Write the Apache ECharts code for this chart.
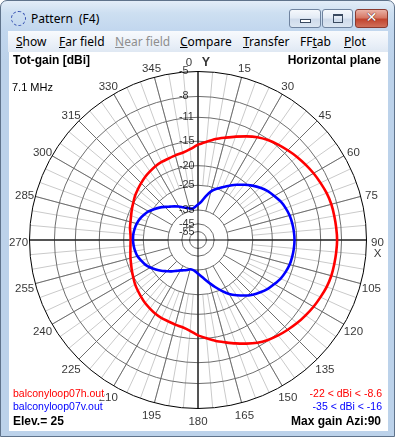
<!DOCTYPE html>
<html><head><meta charset="utf-8">
<script src="https://cdn.jsdelivr.net/npm/echarts@6.0.0/dist/echarts.min.js"></script>
<style>
html,body{margin:0;padding:0;width:395px;height:437px;overflow:hidden;background:#fff;}
#frame{position:absolute;left:0;top:0;width:395px;height:437px;box-sizing:border-box;border:1px solid #5f738b;border-radius:7px 7px 0 0;
  background:linear-gradient(to bottom,#e3edf8 0px,#cddff1 12px,#c2d7ee 29px,#bcd2ea 60px,#bcd2ea 100%);}
#title{position:absolute;top:9px;font:12px "Noto Sans","Open Sans",sans-serif;color:#000;white-space:pre;}
#menubar{position:absolute;left:7px;top:30px;width:380px;height:21px;background:linear-gradient(#f8fafd,#eaf0f8 60%,#dfe8f3);}
.mi{position:absolute;top:32px;font:12px "Noto Sans","Open Sans",sans-serif;color:#000;white-space:pre;}
.mi.dis{color:#8e8e8e;}
#client{position:absolute;left:8px;top:51px;width:379px;height:379px;background:#fff;}
.btn{position:absolute;top:8px;height:19px;box-sizing:border-box;border:1px solid #6f839f;border-radius:3px;
  background:linear-gradient(#f5f8fc,#e3ebf5 45%,#cfdbeb 55%,#dce6f2);}
#bclose{background:linear-gradient(#eab1a5,#d77966 45%,#c2452f 55%,#d0705b);border-color:#8a3a30;}
#icon{position:absolute;left:10px;top:10px;width:13px;height:13px;border:1px dashed #3550b0;border-radius:50%;}
#chart{position:absolute;left:0;top:0;width:395px;height:437px;}
</style></head>
<body>
<div id="frame">
  <div id="icon"></div>
  <div id="title" style="left:30px">Pattern</div>
  <div id="title2" style="position:absolute;left:78px;top:9px;font:12px 'Noto Sans','Open Sans',sans-serif;">(F4)</div>
  <div class="btn" style="left:288px;width:32px"><div style="position:absolute;left:10px;top:9px;width:9px;height:2px;border:1px solid #3a4a60;background:#fff"></div></div>
  <div class="btn" style="left:321px;width:31px"><div style="position:absolute;left:10px;top:4px;width:8px;height:6px;border:1px solid #3a4a60;border-top-width:2px;background:transparent"></div></div>
  <div class="btn" id="bclose" style="left:354px;width:33px"><div style="position:absolute;left:0;top:-1px;width:31px;text-align:center;font:bold 14px 'DejaVu Sans',sans-serif;color:#fff;text-shadow:0 0 1px #5a1d15,0 0 1px #5a1d15">✕</div></div>
  <div id="menubar"></div>
  <div class="mi" style="left:15px"><u>S</u>how</div>
  <div class="mi" style="left:58px"><u>F</u>ar field</div>
  <div class="mi dis" style="left:114px"><u>N</u>ear field</div>
  <div class="mi" style="left:179px"><u>C</u>ompare</div>
  <div class="mi" style="left:242px"><u>T</u>ransfer</div>
  <div class="mi" style="left:299px">FF<u>t</u>ab</div>
  <div class="mi" style="left:343px"><u>P</u>lot</div>
  <div id="client"></div>
</div>
<div id="chart"></div>
<script>
// ---------------- data ----------------
const azimuths = [0,5,10,15,20,25,30,35,40,45,50,55,60,65,70,75,80,85,
  90,95,100,105,110,115,120,125,130,135,140,145,150,155,160,165,170,175,
  180,185,190,195,200,205,210,215,220,225,230,235,240,245,250,255,260,265,
  270,275,280,285,290,295,300,305,310,315,320,325,330,335,340,345,350,355];
const redGain = [-15.6,-15.0,-14.3,-13.7,-13.0,-12.3,-11.6,-11.1,-10.7,-10.35,-10.0,-9.7,-9.4,-9.15,-8.9,-8.75,-8.7,-8.65,
  -8.6,-8.65,-8.7,-8.75,-8.9,-9.15,-9.4,-9.7,-10.0,-10.35,-10.7,-11.1,-11.6,-12.3,-13.0,-13.7,-14.3,-15.0,
  -15.6,-16.4,-16.9,-17.1,-17.3,-17.4,-17.6,-17.9,-18.2,-18.6,-19.0,-19.4,-19.9,-20.3,-20.7,-21.0,-21.3,-21.5,
  -21.6,-21.5,-21.2,-21.0,-20.7,-20.3,-19.9,-19.4,-19.0,-18.6,-18.2,-17.9,-17.6,-17.4,-17.3,-17.1,-16.9,-16.4];
const blueGain = [-32.2,-30.8,-28.5,-26.4,-25.1,-24.0,-22.8,-21.6,-20.5,-19.4,-18.4,-17.6,-17.0,-16.4,-16.0,-15.7,-15.55,-15.45,
  -15.4,-15.45,-15.55,-15.7,-16.0,-16.4,-17.0,-17.6,-18.4,-19.3,-20.4,-21.6,-22.9,-24.6,-26.5,-28.4,-30.2,-31.8,
  -33.1,-34.2,-34.8,-34.8,-34.0,-33.2,-32.4,-31.2,-29.8,-28.6,-27.2,-26.0,-24.9,-24.0,-23.4,-22.8,-22.5,-22.3,
  -22.2,-22.2,-22.35,-22.6,-23.0,-23.6,-24.3,-25.3,-26.4,-27.6,-28.8,-29.8,-30.8,-31.9,-32.8,-33.6,-34.0,-33.3];
const angleTicks = [0,15,30,45,60,75,90,105,120,135,150,165,180,195,210,225,240,255,270,285,300,315,330,345];
const angleTickLabels = ['0','15','30','45','60','75','90','105','120','135','150','165','180','195','210','225','240','255','270','285','300','315','330','345'];
const ringValues = [-5,-8,-11,-15,-20,-25,-35,-45,-55];
const ringTickLabels = ['-5','-8','-11','-15','-20','-25','-35','-45','-55'];

// ---------------- radial gain scale (log-like, as drawn) ----------------
const SCALE_DB = [-55,-45,-35,-25,-20,-15,-11,-8,-5];
const SCALE_FRAC = [0.050,0.096,0.178,0.325,0.441,0.586,0.728,0.852,1.0];
function gainToRadius(db){
  if (db >= -5) return Math.exp((db + 5) * 0.053);
  if (db <= -55) return 0.05 * Math.exp((db + 55) * 0.06);
  for (let i = 0; i < SCALE_DB.length - 1; i++) {
    if (db >= SCALE_DB[i] && db <= SCALE_DB[i+1]) {
      const t = (db - SCALE_DB[i]) / (SCALE_DB[i+1] - SCALE_DB[i]);
      return Math.exp(Math.log(SCALE_FRAC[i]) * (1 - t) + Math.log(SCALE_FRAC[i+1]) * t);
    }
  }
  return 0;
}

// font detection for narrow ring labels
function hasFont(name){
  const c = document.createElement('canvas').getContext('2d');
  c.font = '30px monospace'; const w0 = c.measureText('-1234567890abc').width;
  c.font = '30px "' + name + '", monospace'; const w1 = c.measureText('-1234567890abc').width;
  return Math.abs(w0 - w1) > 0.5;
}
const narrow = hasFont('Liberation Sans Narrow');
const ringFont = narrow ? {fontFamily:'"Liberation Sans Narrow"', fontSize:12} : {fontFamily:'"Liberation Sans", Arial', fontSize:10.8};

const CX = 198, CY = 240, R = 168.5;
const polar = [], angleAxis = [], radiusAxis = [];
function addPolar(r0, r1, axisOpt){
  const idx = polar.length;
  polar.push({center:[CX, CY], radius:[r0, r1]});
  angleAxis.push(Object.assign({
    polarIndex: idx, type:'value', min:0, max:360, startAngle:90, clockwise:true, interval:15,
    axisLine:{show:false}, axisTick:{show:false}, axisLabel:{show:false}, splitLine:{show:false}, silent:true
  }, axisOpt));
  radiusAxis.push({polarIndex: idx, type:'value', min:0, max:1, show:false});
  return idx;
}
const P_MAIN = addPolar(0, R, {axisLine:{show:true, lineStyle:{color:'#000', width:1}}, z:4});
addPolar(R * gainToRadius(-25), R, {interval:5, splitLine:{show:true, lineStyle:{color:'#cacaca', width:1}}, z:0});
addPolar(R * gainToRadius(-35), R, {interval:15, splitLine:{show:true, lineStyle:{color:'#6e6e6e', width:1}}, z:1});
ringValues.forEach(v => { if (v !== -5) addPolar(0, R * gainToRadius(v), {axisLine:{show:true, lineStyle:{color:'#6e6e6e', width:1}}, z:2}); });
addPolar(0, R, {interval:90, splitLine:{show:true, lineStyle:{color:'#000', width:1}}, z:3});

function toPolar(gains){
  const pts = gains.map((g, i) => [gainToRadius(g), azimuths[i]]);
  pts.push(pts[0]);
  return pts;
}

const angleLabelData = angleTicks.map((a, i) => {
  const rad = a * Math.PI / 180;
  const item = {value:[1, a], label:{offset:[11 * Math.sin(rad), -11 * Math.cos(rad) + 2.5], formatter: angleTickLabels[i]}};
  if (a === 0) item.label.formatter = '{n|' + angleTickLabels[i] + '}   {y|Y}';
  return item;
});
angleLabelData.push({value:[1, 90], label:{offset:[11, 14], formatter:'X'}});

const ringLabelData = ringValues.map((v, i) => ({value:[gainToRadius(v), 0], label:{formatter: ringTickLabels[i]}}));

const baseFont = '"Liberation Sans", Arial, sans-serif';
const chart = echarts.init(document.getElementById('chart'), null, {renderer:'canvas'});
chart.setOption({
  animation:false,
  polar, angleAxis, radiusAxis,
  series:[
    {type:'line', name:'balconyloop07h.out', coordinateSystem:'polar', polarIndex:P_MAIN, data:toPolar(redGain),
     symbol:'none', smooth:0.25, lineStyle:{color:'#ff0000', width:2.6}, z:10, silent:true, clip:false},
    {type:'line', name:'balconyloop07v.out', coordinateSystem:'polar', polarIndex:P_MAIN, data:toPolar(blueGain),
     symbol:'none', smooth:0.25, lineStyle:{color:'#0000ff', width:2.6}, z:11, silent:true, clip:false},
    {type:'scatter', coordinateSystem:'polar', polarIndex:P_MAIN, symbolSize:1, itemStyle:{color:'rgba(0,0,0,0)'},
     clip:false, silent:true, z:12, data:angleLabelData,
     label:{show:true, position:'inside', align:'center', verticalAlign:'middle', color:'#000', fontSize:11.5, fontFamily:baseFont,
       rich:{n:{fontSize:11.5, fontFamily:baseFont, color:'#000'}, y:{fontSize:12.5, fontWeight:'bold', fontFamily:baseFont, color:'#000'}}}},
    {type:'scatter', coordinateSystem:'polar', polarIndex:P_MAIN, symbolSize:1, itemStyle:{color:'rgba(0,0,0,0)'},
     clip:false, silent:true, z:12, data:ringLabelData,
     label:Object.assign({show:true, position:'inside', align:'left', verticalAlign:'middle', offset:[-19, 0], color:'#000'}, ringFont)}
  ],
  graphic:[
    {type:'text', x:13, y:61, z:20, style:{text:'Tot-gain [dBi]', font:'bold 12px ' + baseFont, fill:'#000', verticalAlign:'middle'}},
    {type:'text', x:381, y:61, z:20, style:{text:'Horizontal plane', font:'bold 12px ' + baseFont, fill:'#000', align:'right', verticalAlign:'middle'}},
    {type:'text', x:12, y:87.5, z:20, style:{text:'7.1 MHz', font:'11px ' + baseFont, fill:'#000', verticalAlign:'middle'}},
    {type:'text', x:13, y:394, z:20, style:{text:'balconyloop07h.out', font:'10.5px ' + baseFont, fill:'#ff0000', verticalAlign:'middle', backgroundColor:'#fff'}},
    {type:'text', x:13, y:407.5, z:20, style:{text:'balconyloop07v.out', font:'10.5px ' + baseFont, fill:'#0000ff', verticalAlign:'middle', backgroundColor:'#fff'}},
    {type:'text', x:13, y:422, z:20, style:{text:'Elev.= 25', font:'bold 12px ' + baseFont, fill:'#000', verticalAlign:'middle', backgroundColor:'#fff'}},
    {type:'text', x:382, y:394, z:20, style:{text:'-22 < dBi < -8.6', font:'10.5px ' + baseFont, fill:'#ff0000', align:'right', verticalAlign:'middle', backgroundColor:'#fff'}},
    {type:'text', x:382, y:407.5, z:20, style:{text:'-35 < dBi < -16', font:'10.5px ' + baseFont, fill:'#0000ff', align:'right', verticalAlign:'middle', backgroundColor:'#fff'}},
    {type:'text', x:381, y:422, z:20, style:{text:'Max gain Azi:90', font:'bold 12px ' + baseFont, fill:'#000', align:'right', verticalAlign:'middle', backgroundColor:'#fff'}}
  ]
});
</script>
</body></html>
